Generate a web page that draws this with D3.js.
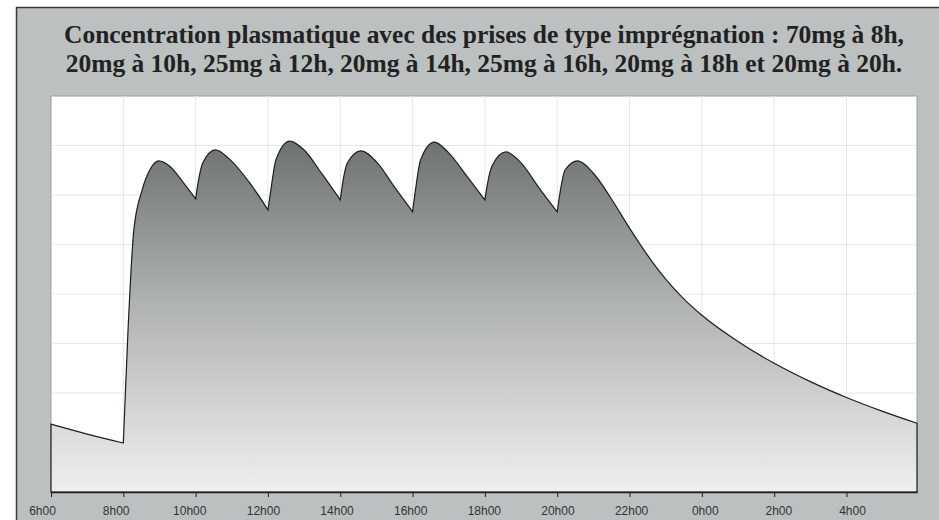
<!DOCTYPE html>
<html>
<head>
<meta charset="utf-8">
<script src="https://cdn.jsdelivr.net/npm/d3@7"></script>
<style>
  body { margin: 0; background: #ffffff; }
  svg { display: block; }
</style>
</head>
<body>
<div id="chart"></div>
<script>
// titre sur deux lignes
var title_lines = ["Concentration plasmatique avec des prises de type imprégnation : 70mg à 8h,",
    "20mg à 10h, 25mg à 12h, 20mg à 14h, 25mg à 16h, 20mg à 18h et 20mg à 20h."]

// heures des prises (debut de chaque morceau de courbe)
var dose_hours = [8, 10, 12, 14, 16, 18, 20]

// courbe : heure (6 -> 30 = 6h du lendemain) et concentration
var curve_hours = [6.0, 7.0, 8.0,
    8.13, 8.29, 8.52, 8.75, 8.98, 9.3, 9.65, 10.0,
    10.08, 10.2, 10.55, 10.9, 11.5, 12.0,
    12.08, 12.22, 12.6, 13.0, 13.5, 14.0,
    14.08, 14.2, 14.57, 15.0, 15.5, 16.0,
    16.08, 16.22, 16.6, 17.0, 17.5, 18.0,
    18.08, 18.2, 18.58, 19.0, 19.5, 20.0,
    20.08, 20.22, 20.57, 21.0, 21.5, 22.0, 22.5, 23.0, 23.5, 24.0, 25.0, 26.0, 27.0, 28.0, 29.0, 29.95]
var curve_values = [13.7, 11.7, 9.9,
    32.7, 52.9, 61.0, 65.3, 66.9, 65.7, 62.6, 59.2,
    63.0, 66.5, 69.1, 67.5, 62.4, 57.0,
    61.0, 67.1, 70.9, 69.1, 64.2, 59.0,
    63.0, 66.5, 68.9, 66.7, 61.6, 56.6,
    61.0, 67.1, 70.7, 68.5, 63.8, 59.0,
    62.6, 65.9, 68.7, 66.5, 61.4, 56.6,
    60.6, 65.1, 66.9, 64.4, 59.2, 53.3, 47.8, 43.0, 39.0, 35.7, 30.4, 26.0, 22.3, 19.1, 16.3, 13.9]

var tick_hours = [6, 8, 10, 12, 14, 16, 18, 20, 22, 24, 26, 28]
var tick_labels = ["6h00", "8h00", "10h00", "12h00", "14h00", "16h00", "18h00", "20h00", "22h00", "0h00", "2h00", "4h00"]
var grid_values = [10, 20, 30, 40, 50, 60, 70]

function draw_chart() {
    var width = 939;
    var height = 520;
    var plot = { "left": 51, "right": 917, "top": 96, "bottom": 492 };
    var title_width = 840;

    var x_scale = d3.scaleLinear().domain([6, 29.95]).range([plot.left, plot.right]);
    var y_scale = d3.scaleLinear().domain([0, 80]).range([plot.bottom, plot.top]);
    // les libelles ne sont pas tout a fait sous les graduations
    var label_scale = d3.scaleLinear().domain([6, 28]).range([42, 852]);

    var svg = d3.select("#chart").append("svg")
        .attr("width", width)
        .attr("height", height)

    var defs = svg.append("defs")
    var grad = defs.append("linearGradient")
        .attr("id", "fill-grad")
        .attr("x1", 0).attr("y1", 0).attr("x2", 0).attr("y2", 1)
    grad.append("stop").attr("offset", "0%").attr("stop-color", "#6d7171")
    grad.append("stop").attr("offset", "45%").attr("stop-color", "#aeb1b1")
    grad.append("stop").attr("offset", "100%").attr("stop-color", "#efefef")

    // cadre gris
    svg.append("rect")
        .attr("x", 16.5).attr("y", 7.5)
        .attr("width", width).attr("height", height)
        .attr("fill", "#bcc0c0")
        .attr("stroke", "#3a3a3a")
        .attr("stroke-width", 1.5)

    var titles = svg.selectAll(".title").data(title_lines)
        .enter().append("text")
        .attr("class", "title")
        .attr("x", (plot.left + plot.right) / 2)
        .attr("y", function (d, i) { return 43 + i * 29; })
        .attr("text-anchor", "middle")
        .style("font-family", "'Liberation Serif', 'Times New Roman', serif")
        .style("font-weight", "bold")
        .style("font-size", "24px")
        .style("fill", "#222")
        .text(function (d) { return d; })
    // taille ajustee pour que la premiere ligne fasse la largeur voulue
    var len = titles.node().getComputedTextLength();
    titles.style("font-size", (24 * title_width / len).toFixed(2) + "px")

    // zone du graphique
    svg.append("rect")
        .attr("x", plot.left).attr("y", plot.top)
        .attr("width", plot.right - plot.left).attr("height", plot.bottom - plot.top)
        .attr("fill", "#ffffff")
        .attr("stroke", "#9a9c9c")
        .attr("stroke-width", 1)

    svg.selectAll(".vgrid").data(tick_hours.slice(1))
        .enter().append("line")
        .attr("x1", function (d) { return x_scale(d); })
        .attr("x2", function (d) { return x_scale(d); })
        .attr("y1", plot.top).attr("y2", plot.bottom)
        .attr("stroke", "#e6e6e6")
    svg.selectAll(".hgrid").data(grid_values)
        .enter().append("line")
        .attr("x1", plot.left).attr("x2", plot.right)
        .attr("y1", function (d) { return y_scale(d); })
        .attr("y2", function (d) { return y_scale(d); })
        .attr("stroke", "#e6e6e6")

    var points = curve_hours.map(function (h, i) { return [h, curve_values[i]]; });
    // un morceau par intervalle entre deux prises, pour garder les pointes
    var bounds = [6].concat(dose_hours).concat([29.95]);
    var line = d3.line()
        .x(function (d) { return x_scale(d[0]); })
        .y(function (d) { return y_scale(d[1]); })
        .curve(d3.curveMonotoneX);
    var path_str = "";
    for (var k = 0; k < bounds.length - 1; ++k) {
        var seg = points.filter(function (p) { return p[0] >= bounds[k] && p[0] <= bounds[k + 1]; });
        var s = line(seg);
        path_str += (k == 0) ? s : s.replace(/^M/, "L");
    }
    path_str += "L" + x_scale(29.95) + "," + y_scale(0) + "L" + x_scale(6) + "," + y_scale(0) + "Z";

    svg.append("path")
        .attr("d", path_str)
        .attr("fill", "url(#fill-grad)")
        .attr("stroke", "#1e1e1e")
        .attr("stroke-width", 1.2)
        .attr("stroke-linejoin", "miter")

    var axis = d3.axisBottom(x_scale)
        .tickValues(tick_hours)
        .tickSize(5)
        .tickSizeOuter(0)
        .tickFormat(function (d, i) { return tick_labels[i]; });
    var g = svg.append("g")
        .attr("transform", "translate(0," + plot.bottom + ")")
        .call(axis)
    g.select(".domain").attr("stroke", "#1e1e1e").attr("stroke-width", 1.5)
    g.selectAll(".tick line").attr("stroke", "#1e1e1e")
    g.selectAll(".tick text")
        .attr("x", function (d) { return label_scale(d) - x_scale(d); })
        .attr("y", 0).attr("dy", "23px")
        .style("font-family", "'Liberation Sans', Arial, sans-serif")
        .style("font-size", "12px")
        .style("fill", "#333")
}

draw_chart()
</script>
</body>
</html>
